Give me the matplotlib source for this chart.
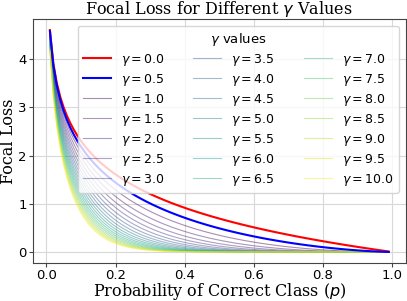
import numpy as np
import matplotlib
matplotlib.use("Agg")
import matplotlib.pyplot as plt

# gamma values shown in the legend
gammas = [0.0, 0.5, 1.0, 1.5, 2.0, 2.5, 3.0, 3.5, 4.0, 4.5, 5.0,
          5.5, 6.0, 6.5, 7.0, 7.5, 8.0, 8.5, 9.0, 9.5, 10.0]
p_start, p_end, n_points = 0.01, 0.99, 100
x_ticks = [0.0, 0.2, 0.4, 0.6, 0.8, 1.0]
y_ticks = [0, 1, 2, 3, 4]

p = np.linspace(p_start, p_end, n_points)

fig, ax = plt.subplots(figsize=(4.07, 3.01), dpi=100)
cmap = plt.get_cmap("viridis")

for i, g in enumerate(gammas):
    loss = -((1 - p) ** g) * np.log(p)
    lab = r"$\gamma = %.1f$" % g
    if g == 0.0:
        ax.plot(p, loss, color="red", lw=1.5, label=lab, zorder=5)
    elif g == 0.5:
        ax.plot(p, loss, color="blue", lw=1.5, label=lab, zorder=5)
    else:
        c = cmap((i - 2) / (len(gammas) - 3))
        ax.plot(p, loss, color=c, lw=0.8, alpha=0.45, label=lab)

ax.set_title(r"Focal Loss for Different $\gamma$ Values", family="DejaVu Serif", fontsize=11.5, pad=1.5)
ax.set_xlabel(r"Probability of Correct Class ($p$)", family="DejaVu Serif", fontsize=11.5, labelpad=-1)
ax.set_ylabel("Focal Loss", family="DejaVu Serif", fontsize=11.5, labelpad=1)
ax.set_xticks(x_ticks)
ax.set_yticks(y_ticks)
ax.tick_params(labelsize=9.5, length=3, color="#444444", pad=1.5)
ax.grid(True, color="#d8d8d8", lw=0.8)
for s in ax.spines.values():
    s.set_color("#444444")

leg = ax.legend(ncol=3, title=r"$\gamma$ values", fontsize=9, title_fontsize=9.5,
                loc="upper right", framealpha=0.8, handlelength=2.25,
                columnspacing=2.3, labelspacing=0.32, borderaxespad=0.55)

fig.subplots_adjust(left=0.081, right=0.9966, top=0.937, bottom=0.126)
fig.savefig("out.png", dpi=100)
